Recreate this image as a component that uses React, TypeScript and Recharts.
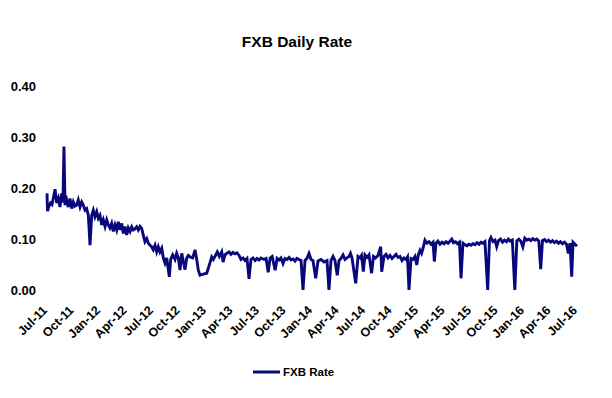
import React from 'react';
import { LineChart, Line, XAxis, YAxis, Legend } from 'recharts';

// Months elapsed since Jul-2011 for each sampled trading day
const monthOffsets: number[] = [
  0, 0.06, 0.23, 0.4, 0.57, 0.71, 0.91, 1.1, 1.28, 1.47,
  1.66, 1.81, 1.92, 2.04, 2.23, 2.41, 2.6, 2.8, 2.98, 3.17,
  3.36, 3.54, 3.74, 3.93, 4.11, 4.3, 4.49, 4.68, 4.87, 5.06,
  5.24, 5.43, 5.63, 5.81, 6.0, 6.19, 6.37, 6.57, 6.76, 6.94,
  7.13, 7.32, 7.51, 7.7, 7.89, 8.07, 8.26, 8.46, 8.64, 8.83,
  9.02, 9.2, 9.4, 9.59, 9.77, 9.96, 10.15, 10.34, 10.53, 10.72,
  10.9, 11.09, 11.29, 11.47, 11.66, 11.85, 12.03, 12.23, 12.42, 12.6,
  12.79, 12.99, 13.17, 13.36, 13.55, 13.85, 14.0, 14.23, 14.49, 14.68,
  14.87, 15.06, 15.25, 15.43, 15.62, 15.82, 16.0, 16.19, 16.49, 16.76,
  16.95, 17.13, 17.32, 17.7, 18.08, 18.37, 18.65, 18.83, 19.02, 19.28,
  19.51, 19.78, 19.93, 20.15, 20.34, 20.6, 20.83, 21.06, 21.28, 21.51,
  21.74, 21.96, 22.19, 22.42, 22.64, 22.87, 23.09, 23.32, 23.55, 23.77,
  24.0, 24.23, 24.57, 24.8, 25.04, 25.26, 25.49, 25.83, 26.05, 26.28,
  26.49, 26.72, 26.94, 27.17, 27.4, 27.62, 27.85, 28.08, 28.3, 28.53,
  28.76, 28.98, 29.21, 29.43, 29.66, 29.89, 30.11, 30.42, 30.68, 31.02,
  31.36, 31.7, 31.92, 32.15, 32.38, 32.6, 32.86, 33.06, 33.28, 33.51,
  33.74, 33.96, 34.19, 34.36, 34.53, 34.95, 35.21, 35.44, 35.61, 35.81,
  36.0, 36.23, 36.45, 36.75, 36.96, 37.18, 37.47, 37.78, 37.89, 38.15,
  38.38, 38.6, 38.83, 39.06, 39.28, 39.51, 39.74, 39.96, 40.19, 40.42,
  40.64, 40.81, 40.98, 41.21, 41.43, 41.66, 41.86, 42.05, 42.23, 42.4,
  42.57, 42.79, 43.02, 43.25, 43.47, 43.7, 43.85, 44.04, 44.26, 44.49,
  44.72, 44.94, 45.17, 45.4, 45.62, 45.82, 46.02, 46.25, 46.47, 46.7,
  46.87, 47.09, 47.32, 47.55, 47.77, 48.0, 48.23, 48.45, 48.68, 48.91,
  49.13, 49.36, 49.58, 49.89, 50.09, 50.26, 50.49, 50.72, 50.91, 51.11,
  51.34, 51.57, 51.79, 52.02, 52.23, 52.45, 52.68, 52.96, 53.19, 53.42,
  53.64, 53.87, 54.09, 54.32, 54.55, 54.77, 55.0, 55.23, 55.45, 55.68,
  55.89, 56.09, 56.32, 56.55, 56.77, 57.0, 57.23, 57.45, 57.68, 57.91,
  58.13, 58.36, 58.58, 58.81, 59.02, 59.21, 59.4, 59.55, 59.77, 60.0,
];

// FXB Rate values (same order as monthOffsets)
const fxbRate: number[] = [
  0.19, 0.155, 0.165, 0.171, 0.168, 0.18, 0.198, 0.171, 0.18, 0.163,
  0.19, 0.172, 0.282, 0.167, 0.177, 0.163, 0.18, 0.16, 0.173, 0.165,
  0.167, 0.177, 0.163, 0.173, 0.167, 0.157, 0.16, 0.147, 0.088, 0.147,
  0.157, 0.144, 0.154, 0.141, 0.147, 0.128, 0.138, 0.125, 0.138, 0.128,
  0.122, 0.131, 0.115, 0.128, 0.118, 0.134, 0.118, 0.131, 0.111, 0.125,
  0.108, 0.122, 0.115, 0.124, 0.118, 0.12, 0.124, 0.118, 0.125, 0.121,
  0.108, 0.095, 0.101, 0.092, 0.088, 0.085, 0.079, 0.088, 0.075, 0.085,
  0.075, 0.082, 0.063, 0.053, 0.063, 0.026, 0.06, 0.069, 0.06, 0.072,
  0.063, 0.039, 0.072, 0.057, 0.04, 0.063, 0.068, 0.065, 0.063, 0.079,
  0.06, 0.039, 0.029, 0.031, 0.033, 0.049, 0.065, 0.06, 0.066, 0.075,
  0.066, 0.075, 0.055, 0.069, 0.072, 0.075, 0.07, 0.074, 0.071, 0.073,
  0.068, 0.06, 0.063, 0.058, 0.062, 0.022, 0.06, 0.063, 0.058, 0.062,
  0.059, 0.063, 0.06, 0.062, 0.035, 0.063, 0.066, 0.039, 0.062, 0.059,
  0.063, 0.052, 0.062, 0.06, 0.064, 0.059, 0.061, 0.057, 0.062, 0.06,
  0.058, 0.0, 0.058, 0.062, 0.072, 0.06, 0.058, 0.023, 0.057, 0.06,
  0.055, 0.058, 0.0, 0.058, 0.066, 0.058, 0.029, 0.058, 0.062, 0.069,
  0.06, 0.063, 0.066, 0.072, 0.063, 0.013, 0.066, 0.063, 0.068, 0.036,
  0.069, 0.064, 0.069, 0.033, 0.066, 0.063, 0.068, 0.085, 0.036, 0.066,
  0.07, 0.063, 0.068, 0.062, 0.066, 0.07, 0.064, 0.066, 0.058, 0.063,
  0.06, 0.065, 0.0, 0.062, 0.06, 0.066, 0.049, 0.07, 0.078, 0.072,
  0.082, 0.098, 0.092, 0.095, 0.09, 0.094, 0.056, 0.092, 0.096, 0.09,
  0.094, 0.091, 0.095, 0.092, 0.096, 0.1, 0.093, 0.095, 0.091, 0.094,
  0.023, 0.092, 0.089, 0.087, 0.09, 0.088, 0.091, 0.089, 0.093, 0.09,
  0.094, 0.092, 0.095, 0.0, 0.097, 0.103, 0.095, 0.098, 0.085, 0.097,
  0.1, 0.094, 0.098, 0.095, 0.1, 0.096, 0.098, 0.0, 0.097, 0.1,
  0.096, 0.085, 0.102, 0.098, 0.1, 0.097, 0.101, 0.098, 0.1, 0.096,
  0.041, 0.097, 0.099, 0.095, 0.098, 0.094, 0.097, 0.093, 0.096, 0.092,
  0.095, 0.091, 0.094, 0.09, 0.072, 0.092, 0.026, 0.094, 0.09, 0.086,
];

const xTickMonths: number[] = [0, 3, 6, 9, 12, 15, 18, 21, 24, 27, 30, 33, 36, 39, 42, 45, 48, 51, 54, 57, 60];
const xTickLabels: string[] = [
  'Jul-11', 'Oct-11', 'Jan-12', 'Apr-12', 'Jul-12', 'Oct-12', 'Jan-13', 'Apr-13', 'Jul-13', 'Oct-13',
  'Jan-14', 'Apr-14', 'Jul-14', 'Oct-14', 'Jan-15', 'Apr-15', 'Jul-15', 'Oct-15', 'Jan-16', 'Apr-16', 'Jul-16',
];
const yTicks: number[] = [0, 0.1, 0.2, 0.3, 0.4];

const chartTitle = 'FXB Daily Rate';
const seriesName = 'FXB Rate';

const NAVY = '#08087c';
const FONT = '"Liberation Sans", Arial, Helvetica, sans-serif';

const data = monthOffsets.map((m, i) => ({ m, rate: fxbRate[i] }));

function XTick(props: any) {
  const { x, y, payload } = props;
  const idx = xTickMonths.indexOf(payload.value);
  return (
    <g transform={`translate(${x + 1},${y + 21})`}>
      <text
        textAnchor="end"
        transform="rotate(-45)"
        fontSize={12.5}
        fontWeight="bold"
        fill="#000"
        fontFamily={FONT}
      >
        {xTickLabels[idx]}
      </text>
    </g>
  );
}

function LegendContent() {
  return (
    <svg width={110} height={18} style={{ display: 'block' }}>
      <line x1={3} x2={30} y1={9} y2={9} stroke={NAVY} strokeWidth={3} />
      <text x={33} y={13} fontSize={11.5} fontWeight="bold" fill="#000" fontFamily={FONT}>
        {seriesName}
      </text>
    </svg>
  );
}

export default function App() {
  return (
    <div style={{ position: 'absolute', left: 0, top: 0, width: 612, height: 398, background: '#fff' }}>
      <LineChart
        width={612}
        height={398}
        data={data}
        margin={{ top: 86.5, right: 35, bottom: 48, left: 0 }}
      >
        <XAxis
          dataKey="m"
          type="number"
          domain={[0, 60]}
          ticks={xTickMonths}
          interval={0}
          axisLine={false}
          tickLine={false}
          tickSize={0}
          tickMargin={0}
          height={60}
          tick={<XTick />}
        />
        <YAxis
          type="number"
          domain={[0, 0.4]}
          ticks={yTicks}
          interval={0}
          axisLine={false}
          tickLine={false}
          tickSize={0}
          tickMargin={11}
          width={47}
          tickFormatter={(v: number) => v.toFixed(2)}
          tick={{ fontSize: 13, fontWeight: 'bold', fill: '#000', fontFamily: FONT }}
        />
        <Legend
          verticalAlign="middle"
          layout="horizontal"
          wrapperStyle={{ position: 'absolute', left: 250, top: 363, width: 110, height: 18 }}
          content={<LegendContent />}
        />
        <Line
          type="linear"
          dataKey="rate"
          name={seriesName}
          stroke={NAVY}
          strokeWidth={2.9}
          strokeLinejoin="miter"
          dot={false}
          activeDot={false}
          isAnimationActive={false}
        />
      </LineChart>
      <svg
        width={612}
        height={60}
        style={{ position: 'absolute', left: 0, top: 0, pointerEvents: 'none' }}
      >
        <text x={297} y={46.5} textAnchor="middle" fontSize={15.5} fontWeight="bold" fill="#000" fontFamily={FONT}>
          {chartTitle}
        </text>
      </svg>
    </div>
  );
}
